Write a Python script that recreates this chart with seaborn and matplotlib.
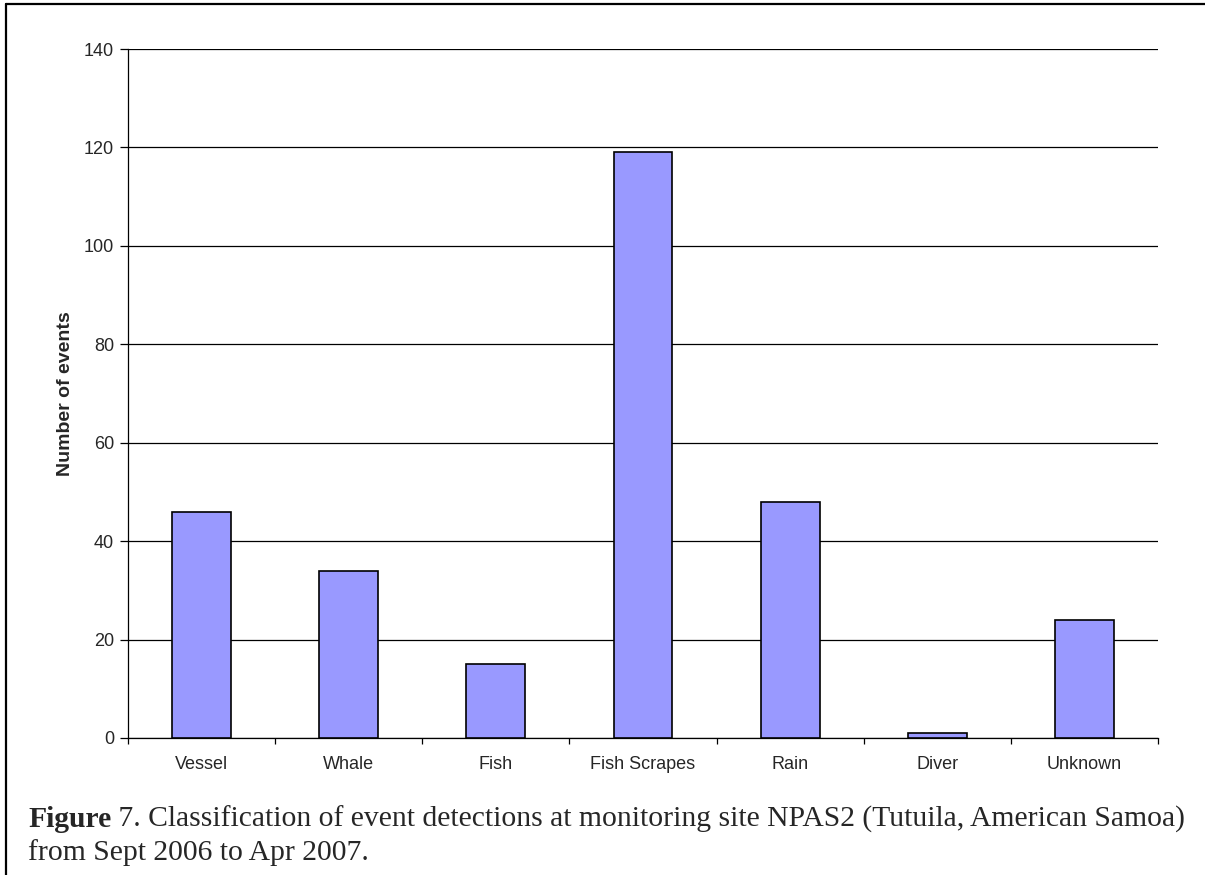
import matplotlib
matplotlib.use("Agg")
import matplotlib.pyplot as plt
import numpy as np
import pandas as pd
import seaborn as sns
from matplotlib.lines import Line2D

categories = ["Vessel", "Whale", "Fish", "Fish Scrapes", "Rain", "Diver", "Unknown"]
counts = [46, 34, 15, 119, 48, 1, 24]
y_ticks = [0, 20, 40, 60, 80, 100, 120, 140]

df = pd.DataFrame({"category": categories, "events": counts})

sns.set_style("white")
plt.rcParams["font.family"] = ["Liberation Sans", "DejaVu Sans"]

W, H = 1205, 875
fig = plt.figure(figsize=(W / 100, H / 100), dpi=100)
ax = fig.add_axes([128 / W, 1 - 738 / H, (1158 - 128) / W, (738 - 49) / H])

sns.barplot(data=df, x="category", y="events", color="#9999FF", saturation=1,
            width=0.40, edgecolor="black", linewidth=1.2, ax=ax, zorder=3)

ax.set_ylim(0, 140)
ax.set_xlim(-0.5, len(categories) - 0.5)
ax.set_yticks(y_ticks)
ax.set_yticklabels([str(t) for t in y_ticks], fontsize=13)
ax.yaxis.grid(True, color="black", linewidth=0.9, zorder=0)
ax.set_axisbelow(True)

# category boundary ticks on x axis
ax.set_xticks(np.arange(len(categories) + 1) - 0.5, minor=True)
ax.tick_params(axis="x", which="major", length=0, pad=13, labelsize=13)
ax.tick_params(axis="x", which="minor", length=4.5, width=0.9, direction="out", color="black", bottom=True)
ax.tick_params(axis="y", length=5.5, width=0.9, direction="out", color="black", left=True, pad=4.5)

ax.set_xlabel("")
ax.set_ylabel("Number of events", fontsize=14, fontweight="bold", labelpad=7)

for side in ["top", "right"]:
    ax.spines[side].set_visible(False)
for side in ["left", "bottom"]:
    ax.spines[side].set_color("black")
    ax.spines[side].set_linewidth(0.9)

# caption
serif = ["Liberation Serif", "DejaVu Serif"]
cap_size = 21.3
t = fig.text(28 / W, 1 - 827 / H, "Figure", fontsize=cap_size, fontweight="bold",
             family=serif, va="baseline", ha="left")
ax.annotate(" 7. Classification of event detections at monitoring site NPAS2 (Tutuila, American Samoa)",
            xy=(1, 0), xycoords=t, va="bottom", ha="left", fontsize=cap_size, family=serif,
            annotation_clip=False)
fig.text(28 / W, 1 - 860 / H, "from Sept 2006 to Apr 2007.", fontsize=cap_size,
         family=serif, va="baseline", ha="left")

# outer frame (left and top edges visible)
fig.add_artist(Line2D([6 / W, 6 / W], [0, 1 - 4 / H], transform=fig.transFigure,
                      color="black", linewidth=1.6))
fig.add_artist(Line2D([6 / W, 1], [1 - 4 / H, 1 - 4 / H], transform=fig.transFigure,
                      color="black", linewidth=1.6))

fig.savefig("out.png", dpi=100)
